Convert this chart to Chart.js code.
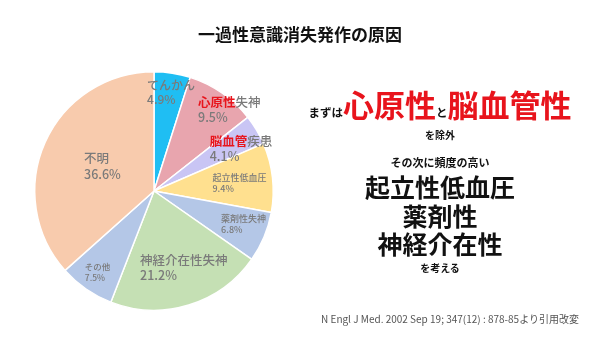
<!DOCTYPE html>
<html lang="ja">
<head>
<meta charset="utf-8">
<script src="https://cdn.jsdelivr.net/npm/chart.js@4/dist/chart.umd.min.js"></script>
<style>
  html, body { margin: 0; padding: 0; background: #fff; }
  #wrap { position: relative; width: 600px; height: 338px; font-family: "Noto Sans CJK JP", sans-serif; }
  #pieChart { position: absolute; left: 0; top: 0; }
  .txt { position: absolute; white-space: nowrap; text-align: center; color: #111; font-weight: bold; }
  #title { left: 0; width: 600px; top: 24px; font-size: 17px; line-height: 20px; }
  .side { left: 290px; width: 300px; }
  .red { color: #e8141c; font-size: 31px; }
  .big { font-size: 25px; line-height: 28px; }
  #cite { left: 300px; width: 300px; top: 312px; font-size: 10px; line-height: 14px; color: #555; font-weight: normal; }
</style>
</head>
<body>
<div id="wrap">
  <canvas id="pieChart" width="600" height="338"></canvas>
  <div class="txt" id="title">一過性意識消失発作の原因</div>
  <div class="txt side" style="top:87px;font-size:11.5px;line-height:34px;">まずは<span class="red">心原性</span>と<span class="red">脳血管性</span></div>
  <div class="txt side" style="top:128px;font-size:10px;line-height:14px;">を除外</div>
  <div class="txt side" style="top:155px;font-size:11px;line-height:14px;">その次に頻度の高い</div>
  <div class="txt side big" style="top:172px;">起立性低血圧</div>
  <div class="txt side big" style="top:201px;">薬剤性</div>
  <div class="txt side big" style="top:229px;">神経介在性</div>
  <div class="txt side" style="top:261px;font-size:10px;line-height:14px;">を考える</div>
  <div class="txt" id="cite">N Engl J Med. 2002 Sep 19; 347(12) : 878-85より引用改変</div>
</div>
<script>
// データ
const categories = ['てんかん', '心原性失神', '脳血管疾患', '起立性低血圧', '薬剤性失神', '神経介在性失神', 'その他', '不明'];
const values = [4.9, 9.5, 4.1, 9.4, 6.8, 21.2, 7.5, 36.6];
const redPart = ['', '心原性', '脳血管', '', '', '', '', ''];

// 見た目
const colors = ['#1fbef3', '#e8a5ae', '#c9c5f4', '#ffe08f', '#b4c7e7', '#c5e0b4', '#b4c7e7', '#f8cbad'];
const labelSize = [12, 12.5, 12.5, 9, 9, 12.5, 8.5, 12.5];
const labelRadius = [0.84, 0.93, 0.81, 0.72, 0.80, 0.69, 0.83, 0.48];
const labelShift = [1, 8, 5, 1, -2.6, -4.3, 0, 1.6];

const fontFamily = '"Noto Sans CJK JP", sans-serif';

// ラベルを描くプラグイン
const sliceLabels = {
  id: 'sliceLabels',
  afterDatasetsDraw(chart) {
    const ctx = chart.ctx;
    const arcs = chart.getDatasetMeta(0).data;
    arcs.forEach((arc, i) => {
      const size = labelSize[i];
      const mid = (arc.startAngle + arc.endAngle) / 2 + labelShift[i] * Math.PI / 180;
      const r = arc.outerRadius * labelRadius[i];
      const cx = arc.x + Math.cos(mid) * r;
      const cy = arc.y + Math.sin(mid) * r;
      const name = categories[i];
      const red = redPart[i];
      const rest = name.slice(red.length);
      const pct = values[i].toFixed(1) + '%';
      const gap = size * 1.22;

      ctx.save();
      ctx.textBaseline = 'middle';
      ctx.textAlign = 'left';
      ctx.font = 'bold ' + size + 'px ' + fontFamily;
      const wRed = red ? ctx.measureText(red).width : 0;
      ctx.font = '500 ' + size + 'px ' + fontFamily;
      const wRest = ctx.measureText(rest).width;
      const wPct = ctx.measureText(pct).width;
      const w = Math.max(wRed + wRest, wPct);
      const left = cx - w / 2;
      const y1 = cy - gap / 2;
      const y2 = cy + gap / 2;

      if (red) {
        ctx.font = 'bold ' + size + 'px ' + fontFamily;
        ctx.fillStyle = '#e8141c';
        ctx.fillText(red, left, y1);
      }
      ctx.font = '500 ' + size + 'px ' + fontFamily;
      ctx.fillStyle = '#7a7a7a';
      ctx.fillText(rest, left + wRed, y1);
      ctx.fillText(pct, left, y2);
      ctx.restore();
    });
  }
};

const ctxPie = document.getElementById('pieChart').getContext('2d');

const pieChart = new Chart(ctxPie, {
  type: 'pie',
  data: {
    labels: categories,
    datasets: [{
      data: values,
      backgroundColor: colors,
      borderColor: '#ffffff',
      borderWidth: 1.5
    }]
  },
  options: {
    responsive: false,
    animation: false,
    layout: { padding: { left: 34, top: 71, right: 326, bottom: 27 } },
    plugins: {
      legend: { display: false },
      tooltip: { enabled: false },
      title: { display: false }
    }
  },
  plugins: [sliceLabels]
});
</script>
</body>
</html>
